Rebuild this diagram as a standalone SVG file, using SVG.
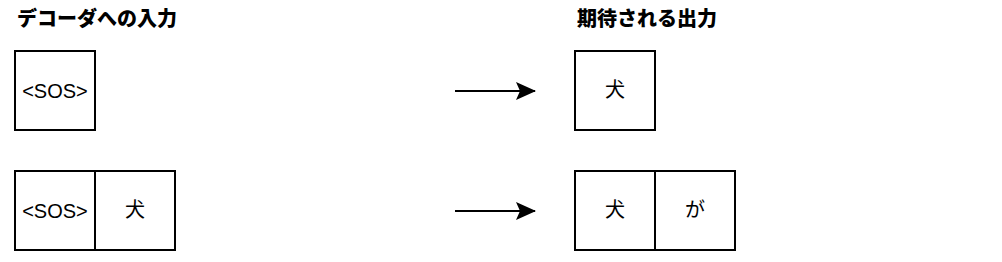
<svg xmlns="http://www.w3.org/2000/svg" width="1002" height="262" viewBox="0 0 1002 262">
<style>
.box{fill:#fff;stroke:#000;stroke-width:2}
.t{font-family:"Liberation Sans","Noto Sans CJK JP",sans-serif;font-size:20px;fill:#000;text-anchor:middle}
.j{font-family:"Noto Sans CJK JP",sans-serif;font-size:20px;fill:#000;text-anchor:middle}
.h{font-family:"Noto Sans CJK JP",sans-serif;font-size:20px;font-weight:900;fill:#000}
.ln{stroke:#000;stroke-width:2;fill:none}
</style>
<defs>
<marker id="ah" markerUnits="userSpaceOnUse" markerWidth="22" markerHeight="22" refX="20" refY="11" orient="auto" viewBox="0 0 22 22">
<path d="M1,2 L21,11 L1,20 L5,11 Z" fill="#000"/>
</marker>
</defs>
<rect width="1002" height="262" fill="#fff"/>
<g id="title-input"><text class="h" x="17" y="26">デコーダへの入力</text></g>
<g id="title-output"><text class="h" x="577" y="26">期待される出力</text></g>
<g id="in1-sos"><rect class="box" x="15" y="51" width="80" height="79"/><text class="t" x="55" y="98">&lt;SOS&gt;</text></g>
<g id="out1-inu"><rect class="box" x="575" y="51" width="80" height="79"/><text class="j" x="615" y="97">犬</text></g>
<g id="in2-sos"><rect class="box" x="15" y="171" width="80" height="79"/><text class="t" x="55" y="218">&lt;SOS&gt;</text></g>
<g id="in2-inu"><rect class="box" x="95" y="171" width="80" height="79"/><text class="j" x="135" y="217">犬</text></g>
<g id="out2-inu"><rect class="box" x="575" y="171" width="80" height="79"/><text class="j" x="615" y="217">犬</text></g>
<g id="out2-ga"><rect class="box" x="655" y="171" width="80" height="79"/><text class="j" x="695" y="217">が</text></g>
<g id="connectors">
<line class="ln" x1="455" y1="91" x2="535" y2="91" marker-end="url(#ah)"/>
<line class="ln" x1="455" y1="211" x2="535" y2="211" marker-end="url(#ah)"/>
</g>
</svg>
